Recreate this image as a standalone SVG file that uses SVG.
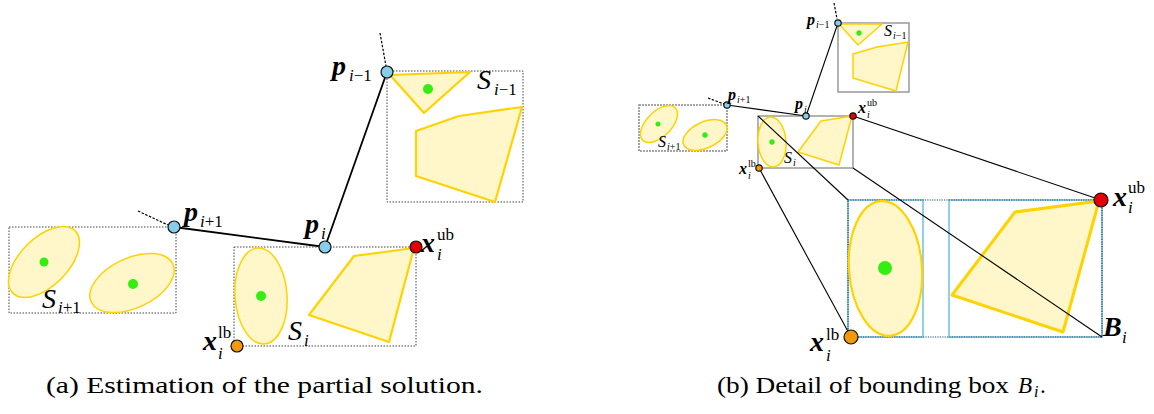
<svg xmlns="http://www.w3.org/2000/svg" width="1154" height="414" viewBox="0 0 1154 414">
<style>
text{font-family:"Liberation Serif","Times New Roman",serif;fill:#000}
.bi{font-weight:bold;font-style:italic}
.it{font-style:italic}
.box{fill:none;stroke:#444;stroke-width:1;stroke-dasharray:1.5 1.5}
.boxb{fill:none;stroke:#999;stroke-width:1.5}
.boxbd{fill:none;stroke:#888;stroke-width:1.5;stroke-dasharray:2 1}
.sh{fill:#fff7c9;stroke:#ffd200;stroke-width:1.5;stroke-linejoin:round}
.sh2{fill:#fff7c9;stroke:#ffd200;stroke-width:2.2;stroke-linejoin:round}
.sh3{fill:#fff7c9;stroke:#ffd200;stroke-width:3;stroke-linejoin:round}
.dot{fill:#33ee11}
.pn{fill:#87ceeb;stroke:#111;stroke-width:1.2}
.ub{fill:#e60000;stroke:#111;stroke-width:1.2}
.lb{fill:#f29a0c;stroke:#111;stroke-width:1.2}
.ln{stroke:#000;stroke-width:1.8;fill:none}
.ln2{stroke:#000;stroke-width:1.1;fill:none}
.dl{stroke:#000;stroke-width:1.2;stroke-dasharray:2.5 1.5;fill:none}
.m{font-size:28px}.s{font-size:17px}.sS{font-size:28px}
.m2{font-size:16px}.s2{font-size:10px}
</style>

<!-- ===== Panel (a) ===== -->
<g id="connectors-a">
<line class="dl" x1="380" y1="33" x2="386" y2="66"/>
<line class="dl" x1="138" y1="211" x2="168" y2="225"/>
<line class="ln" x1="387" y1="72" x2="325" y2="247"/>
<line class="ln" x1="174" y1="227" x2="325" y2="247"/>
</g>

<g id="set-a-Sim1">
<rect class="box" x="387" y="71" width="136" height="131"/>
<polygon class="sh2" points="390,75 470,72 424,113"/>
<circle class="dot" cx="428" cy="89" r="5"/>
<polygon class="sh2" points="416,131 459,116 522,107 495,202 416,176"/>
<text x="477" y="89" class="it sS">S</text>
<text class="s" x="494" y="95"><tspan class="it">i</tspan>−1</text>
</g>

<g id="set-a-Sip1">
<rect class="box" x="9" y="227" width="167" height="86"/>
<ellipse class="sh" cx="44" cy="262" rx="44" ry="24" transform="rotate(-45 44 262)"/>
<circle class="dot" cx="44" cy="262" r="4.5"/>
<ellipse class="sh" cx="132" cy="283" rx="45" ry="25" transform="rotate(-25 132 283)"/>
<circle class="dot" cx="133" cy="284" r="5"/>
<text x="42" y="308" class="it sS">S</text>
<text class="s" x="58" y="313"><tspan class="it">i</tspan>+1</text>
</g>

<g id="set-a-Si">
<rect class="box" x="234" y="247" width="182" height="99"/>
<ellipse class="sh" cx="261" cy="296" rx="26" ry="48" transform="rotate(-4 261 296)"/>
<circle class="dot" cx="261" cy="296" r="5"/>
<polygon class="sh2" points="354,256 414,248 389,342 309,315"/>
<text x="288" y="340" class="it sS">S</text>
<text class="s it" x="304" y="346">i</text>
</g>

<g id="node-a-pim1">
<circle class="pn" cx="387" cy="72" r="6"/>
<text class="bi m" x="332" y="75">p</text>
<text class="s" x="349" y="81"><tspan class="it">i</tspan>−1</text>
</g>
<g id="node-a-pip1">
<circle class="pn" cx="174" cy="227" r="6"/>
<text class="bi m" x="184" y="221">p</text>
<text class="s" x="200" y="227"><tspan class="it">i</tspan>+1</text>
</g>
<g id="node-a-pi">
<circle class="pn" cx="325" cy="247" r="6"/>
<text class="bi m" x="305" y="233">p</text>
<text class="s it" x="321" y="239">i</text>
</g>
<g id="node-a-xub">
<circle class="ub" cx="416" cy="247" r="6"/>
<text class="bi m" x="421" y="252">x</text>
<text class="s" x="437" y="240">ub</text>
<text class="s it" x="437" y="260">i</text>
</g>
<g id="node-a-xlb">
<circle class="lb" cx="237" cy="346" r="6"/>
<text class="bi m" x="203" y="350">x</text>
<text class="s" x="218" y="338">lb</text>
<text class="s it" x="218" y="359">i</text>
</g>

<!-- ===== Panel (b) ===== -->
<g id="set-b-big">
<rect x="848" y="200" width="75" height="137" fill="none" stroke="#8fd0ea" stroke-width="2"/>
<rect x="949" y="200" width="153" height="137" fill="none" stroke="#8fd0ea" stroke-width="2"/>
<rect x="848" y="200" width="254" height="137" fill="none" stroke="#2a4a5a" stroke-width="1.2" stroke-dasharray="1.2 1.2"/>
<ellipse class="sh2" cx="885.5" cy="268.5" rx="36.5" ry="67.5" transform="rotate(-4 885.5 268.5)"/>
<circle class="dot" cx="885" cy="268" r="7"/>
<polygon class="sh3" points="1015,212 1099,201 1063,332 952,295"/>
<text class="bi m" x="1103" y="336">B</text>
<text class="s it" x="1122" y="343">i</text>
</g>

<g id="set-b-Sim1">
<rect class="boxb" x="838" y="23" width="71" height="69"/>
<polygon class="sh" points="839,24 882,24 858,45"/>
<circle class="dot" cx="859" cy="33" r="2.7"/>
<polygon class="sh" points="853,54 877,47 908,42 896,91 853,78"/>
<text class="it m2" x="884" y="36">S</text>
<text class="s2" x="893" y="39"><tspan class="it">i</tspan>−1</text>
</g>

<g id="set-b-Sip1">
<rect class="boxbd" x="639" y="105" width="88" height="46"/>
<ellipse class="sh" cx="659" cy="124" rx="23" ry="12.5" transform="rotate(-45 659 124)"/>
<circle class="dot" cx="658" cy="124" r="2.5"/>
<ellipse class="sh" cx="705" cy="135" rx="23.5" ry="13" transform="rotate(-25 705 135)"/>
<circle class="dot" cx="705" cy="135" r="2.7"/>
<text class="it m2" x="658" y="147">S</text>
<text class="s2" x="667" y="150"><tspan class="it">i</tspan>+1</text>
</g>

<g id="set-b-Si">
<rect class="boxb" x="758" y="116" width="95" height="52"/>
<ellipse class="sh" cx="772" cy="142" rx="14" ry="25" transform="rotate(-4 772 142)"/>
<circle class="dot" cx="772" cy="142" r="2.7"/>
<polygon class="sh" points="821,121 852,116 839,165 798,152"/>
<text class="it m2" x="784" y="163">S</text>
<text class="s2 it" x="793" y="166">i</text>
</g>

<g id="connectors-b">
<line class="dl" x1="834" y1="3" x2="837" y2="19" stroke-width="0.9"/>
<line class="dl" x1="708" y1="98" x2="724" y2="104" stroke-width="0.9"/>
<line class="ln2" x1="838" y1="23" x2="806" y2="116"/>
<line class="ln2" x1="727" y1="105" x2="806" y2="116"/>
<line class="ln2" x1="758" y1="116" x2="848" y2="200"/>
<line class="ln2" x1="853" y1="168" x2="1102" y2="337"/>
<line class="ln2" x1="853" y1="116" x2="1101" y2="200"/>
<line class="ln2" x1="759" y1="168" x2="851" y2="337"/>
</g>

<g id="node-b-pim1">
<circle class="pn" cx="838" cy="23" r="3.2" stroke-width="0.9"/>
<text class="bi m2" x="807" y="25">p</text>
<text class="s2" x="816" y="28"><tspan class="it">i</tspan>−1</text>
</g>
<g id="node-b-pip1">
<circle class="pn" cx="727" cy="105" r="3.2" stroke-width="0.9"/>
<text class="bi m2" x="728" y="100">p</text>
<text class="s2" x="737" y="103"><tspan class="it">i</tspan>+1</text>
</g>
<g id="node-b-pi">
<circle class="pn" cx="806" cy="116" r="3.2" stroke-width="0.9"/>
<text class="bi m2" x="795" y="109">p</text>
<text class="s2 it" x="804" y="113">i</text>
</g>
<g id="node-b-xub-small">
<circle class="ub" cx="853" cy="116" r="3.2" stroke-width="0.9"/>
<text class="bi m2" x="858" y="113">x</text>
<text class="s2" x="867" y="106">ub</text>
<text class="s2 it" x="867" y="118">i</text>
</g>
<g id="node-b-xlb-small">
<circle class="lb" cx="759" cy="168" r="3.2" stroke-width="0.9"/>
<text class="bi m2" x="739" y="174">x</text>
<text class="s2" x="748" y="167">lb</text>
<text class="s2 it" x="748" y="179">i</text>
</g>
<g id="node-b-xub">
<circle class="ub" cx="1101" cy="200" r="7" stroke-width="1.5"/>
<text class="bi m" x="1113" y="206">x</text>
<text class="s" x="1128" y="193">ub</text>
<text class="s it" x="1128" y="213">i</text>
</g>
<g id="node-b-xlb">
<circle class="lb" cx="851" cy="337" r="7" stroke-width="1.5"/>
<text class="bi m" x="810" y="351">x</text>
<text class="s" x="826" y="340">lb</text>
<text class="s it" x="826" y="361">i</text>
</g>

<!-- captions -->
<text x="46" y="393" font-size="23" textLength="437" lengthAdjust="spacingAndGlyphs">(a) Estimation of the partial solution.</text>
<text x="717" y="393" font-size="23"><tspan textLength="292" lengthAdjust="spacingAndGlyphs">(b) Detail of bounding box</tspan><tspan class="it" x="1018">B</tspan><tspan class="it" font-size="16" x="1034" y="397">i</tspan><tspan x="1040" y="393">.</tspan></text>
</svg>
